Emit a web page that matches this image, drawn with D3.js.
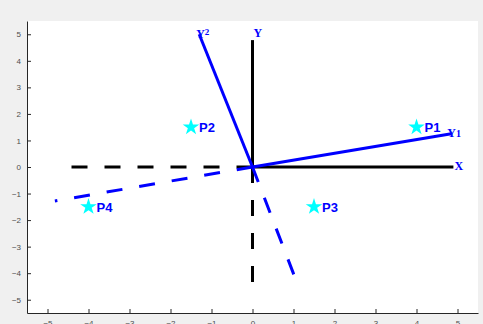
<!DOCTYPE html>
<html>
<head>
<meta charset="utf-8">
<script src="https://cdn.jsdelivr.net/npm/d3@7"></script>
<style>
  html, body { margin: 0; padding: 0; background: #f0f0f0; }
  svg { display: block; }
</style>
</head>
<body>
<svg id="chart" width="483" height="324"></svg>
<script>
// Axis ticks
const xTicks = [-5, -4, -3, -2, -1, 0, 1, 2, 3, 4, 5];
const yTicks = [-5, -4, -3, -2, -1, 0, 1, 2, 3, 4, 5];

// Original axes: positive half solid, negative half dashed
const axisNames = ["X", "Y"];
const axisPos = [[4.9, 0], [0, 4.78]];
const axisNeg = [[-4.5, 0], [0, -4.6]];

// Rotated axes
const rotNames = ["Y1", "Y2"];
const rotPos = [[4.85, 1.25], [-1.3, 5.0]];
const rotNeg = [[-4.82, -1.28], [1.1, -4.42]];

// Points
const pointNames = ["P1", "P2", "P3", "P4"];
const pointX = [4, -1.5, 1.5, -4];
const pointY = [1.5, 1.5, -1.5, -1.5];

const W = 483, H = 324;
const plot = { left: 27, right: 478, top: 21, bottom: 313 };

const svg = d3.select("#chart");

const x = d3.scaleLinear().domain([-5.5, 5.5]).range([plot.left, plot.right]);
const y = d3.scaleLinear().domain([-5.5, 5.5]).range([plot.bottom, plot.top]);

// White plotting area
svg.append("rect")
  .attr("x", plot.left).attr("y", plot.top)
  .attr("width", plot.right - plot.left).attr("height", plot.bottom - plot.top)
  .attr("fill", "#ffffff");

// Axes (ticks pointing inward)
const axisColor = "#262626";
const gx = svg.append("g")
  .attr("transform", `translate(0,${plot.bottom})`)
  .call(d3.axisBottom(x).tickValues(xTicks).tickSize(-4).tickPadding(6).tickSizeOuter(0));
const gy = svg.append("g")
  .attr("transform", `translate(${plot.left},0)`)
  .call(d3.axisLeft(y).tickValues(yTicks).tickSize(-4).tickPadding(6).tickSizeOuter(0));

[gx, gy].forEach(g => {
  g.select(".domain").attr("stroke", axisColor).attr("stroke-width", 1);
  g.selectAll(".tick line").attr("stroke", axisColor);
  g.selectAll(".tick text")
    .attr("fill", "#4d4d4d")
    .attr("font-family", "Liberation Sans, Arial, sans-serif")
    .attr("font-size", 8);
});
gx.selectAll(".tick text").attr("dy", "0.9em");

const lines = svg.append("g");
const dashPattern = "16,17";

function seg(end, color, dashed) {
  lines.append("line")
    .attr("x1", x(0)).attr("y1", y(0))
    .attr("x2", x(end[0])).attr("y2", y(end[1]))
    .attr("stroke", color)
    .attr("stroke-width", 3)
    .attr("stroke-dasharray", dashed ? dashPattern : null);
}

axisPos.forEach(p => seg(p, "#000000", false));
axisNeg.forEach(p => seg(p, "#000000", true));
rotPos.forEach(p => seg(p, "#0000ff", false));
rotNeg.forEach(p => seg(p, "#0000ff", true));

// Axis name labels
const labelFont = "Liberation Serif, Times New Roman, serif";
const blue = "#0000ff";
svg.append("text").attr("x", x(axisPos[0][0]) + 1).attr("y", y(0) + 3)
  .attr("fill", blue).attr("font-family", labelFont).attr("font-weight", "bold")
  .attr("font-size", 12).text(axisNames[0]);
svg.append("text").attr("x", x(0) + 1).attr("y", y(axisPos[1][1]) - 3)
  .attr("fill", blue).attr("font-family", labelFont).attr("font-weight", "bold")
  .attr("font-size", 12).text(axisNames[1]);

// Rotated axis labels
const y1Label = svg.append("text")
  .attr("x", x(rotPos[0][0]) - 4).attr("y", y(rotPos[0][1]) + 3)
  .attr("fill", blue).attr("font-family", labelFont).attr("font-weight", "bold")
  .attr("font-size", 12);
y1Label.append("tspan").text(rotNames[0].slice(0, 1));
y1Label.append("tspan").attr("font-size", 10).text(rotNames[0].slice(1));

const y2Label = svg.append("text")
  .attr("x", x(rotPos[1][0]) - 3).attr("y", y(rotPos[1][1]) + 4)
  .attr("fill", blue).attr("font-family", labelFont).attr("font-weight", "bold")
  .attr("font-size", 12);
y2Label.append("tspan").text(rotNames[1].slice(0, 1));
y2Label.append("tspan").attr("font-size", 9).attr("dy", -3).text(rotNames[1].slice(1));

// Points: cyan pentagrams with bold labels
const star = d3.symbol().type(d3.symbolStar).size(85);
const pts = svg.append("g");
pointNames.forEach((name, i) => {
  pts.append("path")
    .attr("d", star)
    .attr("transform", `translate(${x(pointX[i])},${y(pointY[i])})`)
    .attr("fill", "#00ffff");
  pts.append("text")
    .attr("x", x(pointX[i]) + 8).attr("y", y(pointY[i]) + 5)
    .attr("fill", blue)
    .attr("font-family", "Liberation Sans, Arial, sans-serif")
    .attr("font-weight", "bold")
    .attr("font-size", 13)
    .text(name);
});
</script>
</body>
</html>
